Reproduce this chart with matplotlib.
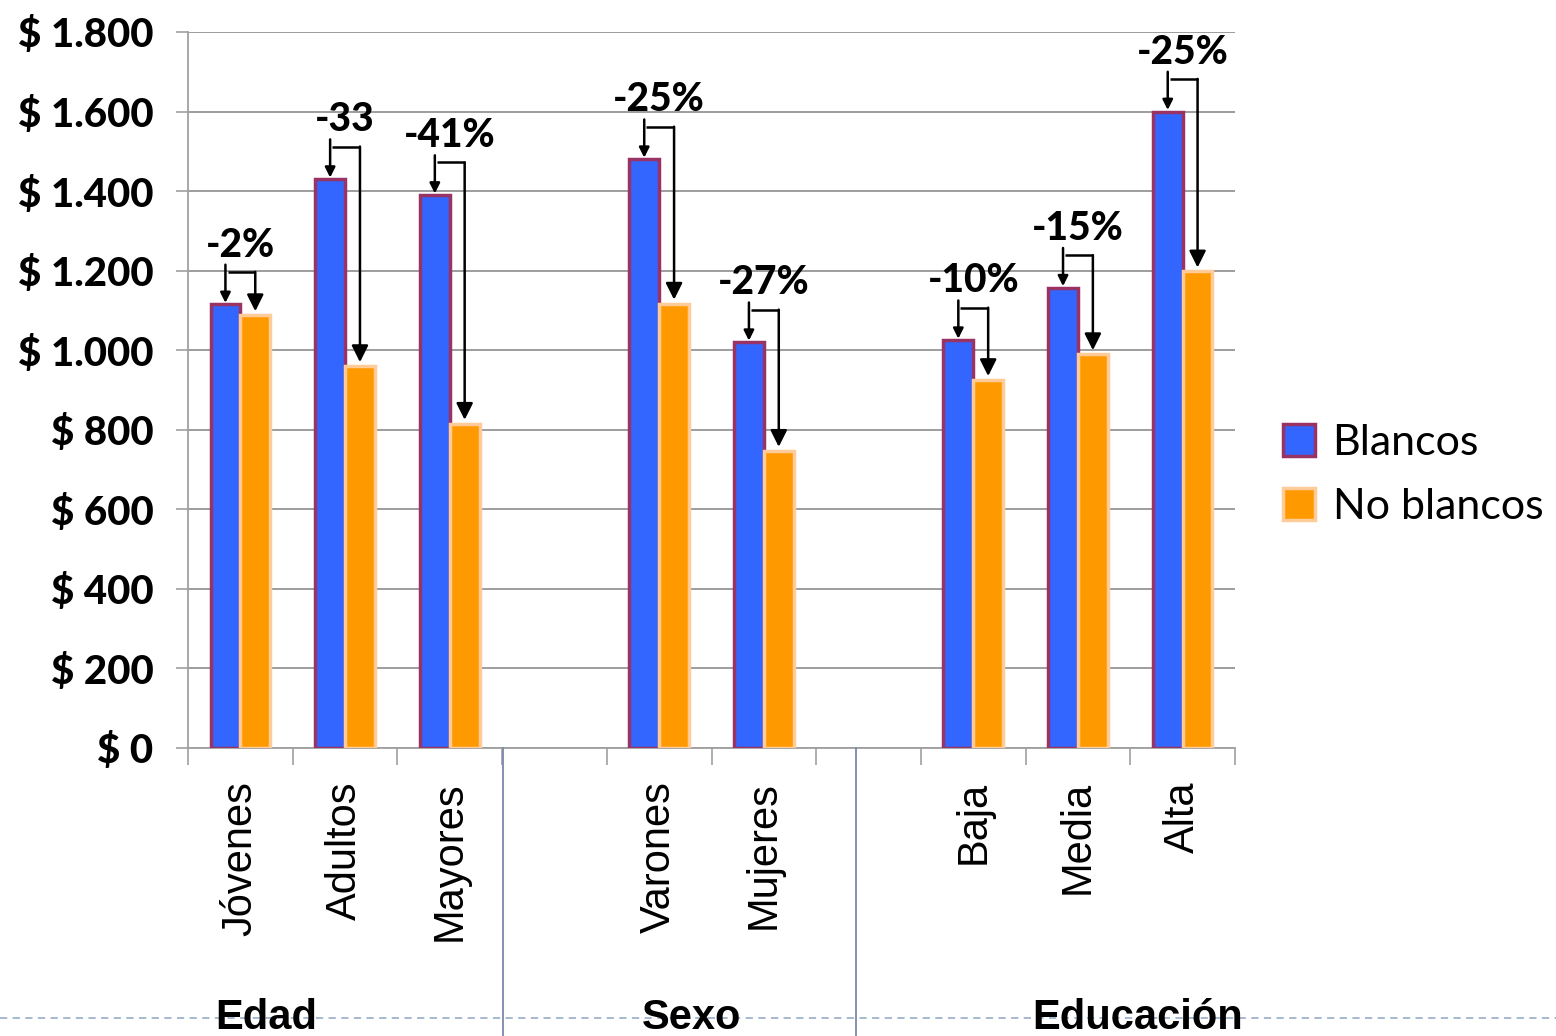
import numpy as np
import matplotlib
matplotlib.use('Agg')
import matplotlib.pyplot as plt
from matplotlib.ticker import FuncFormatter, FixedLocator
from matplotlib.patches import Patch
import matplotlib.transforms as mtransforms

# datos
categorias = ['Jóvenes', 'Adultos', 'Mayores', 'Varones', 'Mujeres', 'Baja', 'Media', 'Alta']
blancos = [1115, 1430, 1390, 1480, 1020, 1025, 1157, 1600]
no_blancos = [1088, 960, 815, 1117, 747, 925, 990, 1198]
brechas = ['-2%', '-33', '-41%', '-25%', '-27%', '-10%', '-15%', '-25%']
grupos = ['Edad', 'Sexo', 'Educación']

# posicion de cada categoria (huecos entre grupos)
slots = [0, 1, 2, 4, 5, 7, 8, 9]
n_slots = 10

azul, borde_azul = '#3366FF', '#993366'
naranja, borde_naranja = '#FF9900', '#FFCC99'

fig = plt.figure(figsize=(15.56, 10.36), dpi=100)
ax = fig.add_axes([188/1556, 1 - 748/1036, (1235 - 188)/1556, (748 - 32)/1036])

w = 0.285
x = np.array(slots, dtype=float)
ax.bar(x - w/2, blancos, w, color=azul, edgecolor=borde_azul, linewidth=2.5, zorder=3)
ax.bar(x + w/2, no_blancos, w, color=naranja, edgecolor=borde_naranja, linewidth=2.5, zorder=3)

ax.set_xlim(-0.5, n_slots - 0.5)
ax.set_ylim(0, 1800)
ax.yaxis.set_major_locator(FixedLocator(np.arange(0, 1801, 200)))
ax.yaxis.set_major_formatter(FuncFormatter(lambda v, p: '$ ' + f'{int(v):,}'.replace(',', '.')))
ax.grid(axis='y', color='#8c8c8c', linewidth=1.2, zorder=0)

for s in ['top', 'right']:
    ax.spines[s].set_visible(False)
for s in ['left', 'bottom']:
    ax.spines[s].set_color('#a0a0a0')
    ax.spines[s].set_linewidth(1.3)

ax.tick_params(axis='y', length=9, color='#a0a0a0', width=1.2, pad=16)
for lab in ax.get_yticklabels():
    lab.set_fontfamily('Lato')
    lab.set_fontweight('black')
    lab.set_fontsize(29)

ax.set_xticks(x)
ax.set_xticklabels(categorias, rotation=90, fontsize=30, family='Liberation Sans')
ax.tick_params(axis='x', which='major', length=0, pad=24)
ax.set_xticks(np.arange(-0.5, n_slots, 1.0), minor=True)
ax.tick_params(axis='x', which='minor', length=12, color='#a0a0a0', width=1.2)

# flechas de brecha
for xi, b, nb, txt in zip(x, blancos, no_blancos, brechas):
    xb, xo = xi - w/2, xi + w/2
    codo = b + 82
    ax.annotate('', xy=(xb, b + 4), xytext=(xb, codo + 18),
                arrowprops=dict(arrowstyle='-|>,head_length=0.6,head_width=0.3', color='black', lw=1.8,
                                shrinkA=0, shrinkB=0), zorder=5)
    ax.plot([xb + 0.02, xo], [codo, codo], color='black', lw=1.8, zorder=5, solid_capstyle='butt')
    ax.annotate('', xy=(xo, nb + 10), xytext=(xo, codo),
                arrowprops=dict(arrowstyle='-|>,head_length=1.0,head_width=0.5', color='black', lw=1.8,
                                shrinkA=0, shrinkB=0), zorder=5)
    ax.annotate(txt, xy=(xi, codo), xytext=(0, 11), textcoords='offset points',
                ha='center', va='baseline', fontsize=28, fontweight='black', family='Lato')

# separadores y nombres de grupo
trans = mtransforms.blended_transform_factory(ax.transData, fig.transFigure)
for xs in [2.51, 5.88]:
    fig.add_artist(plt.Line2D([xs, xs], [0, 1 - 748/1036], transform=trans, color='#7a88aa', lw=1.3))
fig.add_artist(plt.Line2D([0, 1], [1 - 1018/1036] * 2, transform=fig.transFigure,
                          color='#9fb3cc', lw=1.3, linestyle=(0, (4, 3))))
for gx, g in zip([0.245, 4.31, 8.57], grupos):
    fig.text(gx, 1 - 1018/1036, g, transform=trans, ha='center', va='center',
             fontsize=30, fontweight='bold', family='Liberation Sans')

handles = [Patch(facecolor=azul, edgecolor=borde_azul, linewidth=2.5, label='Blancos'),
           Patch(facecolor=naranja, edgecolor=borde_naranja, linewidth=2.5, label='No blancos')]
fig.legend(handles=handles, loc='center left', bbox_to_anchor=(1283/1556, 1 - 475/1036),
           frameon=False, prop={'family': 'Lato', 'size': 31}, handlelength=0.75, handleheight=0.75,
           handletextpad=0.4, labelspacing=0.6, borderpad=0, borderaxespad=0)

fig.savefig('out.png', dpi=100)
